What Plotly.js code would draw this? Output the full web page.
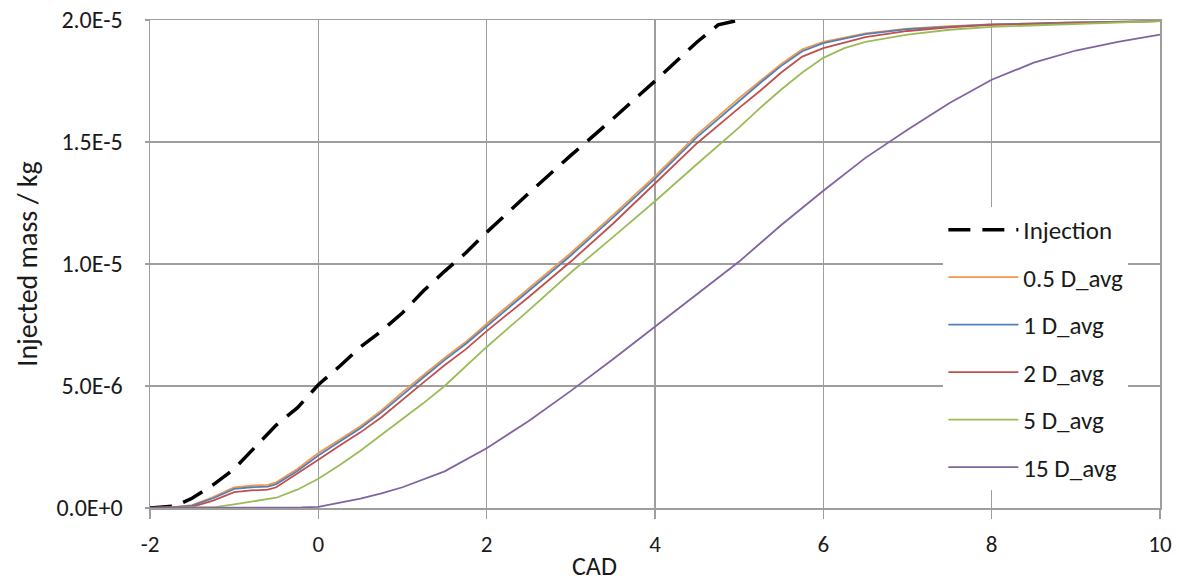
<!DOCTYPE html>
<html>
<head>
<meta charset="utf-8">
<script src="https://cdn.plot.ly/plotly-3.0.1.min.js"></script>
<style>html,body{margin:0;padding:0;background:#fff;}#chart{width:1179px;height:586px;}</style>
</head>
<body>
<div id="chart"></div>
<script>
// Values in units of 1e-6 kg
const injX = [-2, -1.8, -1.7, -1.5, -1.25, -1.0, -0.75, -0.5, -0.25, 0, 0.25, 0.5, 0.75, 1.0, 1.25, 1.5, 1.75, 2.0, 2.5, 3.0, 3.5, 4.0, 4.5, 4.75, 5.0];
const injY = [0, 0.03, 0.08, 0.4, 0.95, 1.6, 2.5, 3.4, 4.1, 5.05, 5.8, 6.6, 7.25, 8.0, 8.9, 9.7, 10.45, 11.3, 12.9, 14.45, 15.95, 17.5, 19.1, 19.8, 20.0];

const cX = [-2, -1.75, -1.5, -1.25, -1.0, -0.8, -0.6, -0.5, -0.25, 0, 0.25, 0.5, 0.75, 1.0, 1.25, 1.5, 1.75, 2.0, 2.5, 3.0, 3.5, 4.0, 4.5, 5.0, 5.25, 5.5, 5.75, 6.0, 6.5, 7.0, 7.5, 8.0, 9.0, 10.0];
const d05Y = [0, 0.02, 0.12, 0.45, 0.85, 0.92, 0.95, 1.05, 1.6, 2.25, 2.8, 3.35, 4.0, 4.75, 5.45, 6.15, 6.8, 7.55, 9.0, 10.45, 12.0, 13.6, 15.3, 16.8, 17.5, 18.2, 18.8, 19.1, 19.45, 19.65, 19.75, 19.82, 19.9, 19.95];
const d1Y  = [0, 0.02, 0.1, 0.4, 0.78, 0.85, 0.88, 0.98, 1.52, 2.15, 2.72, 3.27, 3.92, 4.66, 5.36, 6.06, 6.72, 7.45, 8.9, 10.35, 11.9, 13.5, 15.2, 16.7, 17.42, 18.12, 18.72, 19.05, 19.42, 19.63, 19.74, 19.82, 19.9, 19.95];
const d2Y  = [0, 0.01, 0.05, 0.3, 0.65, 0.72, 0.75, 0.85, 1.4, 1.98, 2.55, 3.1, 3.72, 4.45, 5.15, 5.85, 6.5, 7.25, 8.65, 10.1, 11.65, 13.3, 14.95, 16.4, 17.1, 17.85, 18.5, 18.85, 19.3, 19.55, 19.7, 19.8, 19.88, 19.95];

const g5X = [-2, -1.5, -1.25, -1.0, -0.75, -0.5, -0.25, 0, 0.25, 0.5, 0.75, 1.0, 1.25, 1.5, 1.75, 2.0, 2.5, 3.0, 3.5, 4.0, 4.5, 5.0, 5.25, 5.5, 5.75, 6.0, 6.25, 6.5, 7.0, 7.5, 8.0, 9.0, 10.0];
const d5Y = [0, 0, 0.03, 0.15, 0.3, 0.42, 0.75, 1.2, 1.75, 2.35, 3.0, 3.65, 4.3, 5.0, 5.8, 6.6, 8.1, 9.65, 11.1, 12.57, 14.1, 15.6, 16.4, 17.15, 17.85, 18.45, 18.85, 19.1, 19.4, 19.6, 19.72, 19.85, 19.95];

const p15X = [-2, -0.5, -0.2, 0, 0.25, 0.5, 0.75, 1.0, 1.5, 2.0, 2.5, 3.0, 3.5, 4.0, 4.5, 5.0, 5.5, 6.0, 6.5, 7.0, 7.5, 8.0, 8.5, 9.0, 9.5, 10.0];
const d15Y = [0, 0, 0.02, 0.05, 0.2, 0.38, 0.6, 0.85, 1.5, 2.45, 3.57, 4.8, 6.1, 7.43, 8.75, 10.1, 11.6, 13.0, 14.35, 15.5, 16.6, 17.55, 18.25, 18.75, 19.1, 19.4];

const yTickVals = [0, 5e-6, 1e-5, 1.5e-5, 2e-5];
const yTickText = ['0.0E+0', '5.0E-6', '1.0E-5', '1.5E-5', '2.0E-5'];
const xTickVals = [-2, 0, 2, 4, 6, 8, 10];
const xTitle = 'CAD';
const yTitle = 'Injected mass / kg';

const s = v => v.map(a => a * 1e-6);
const FONT = 'Carlito, Lato, "Liberation Sans", sans-serif';
const GRID = '#9e9e9e';

const traces = [
  {name: 'Injection', x: injX, y: s(injY), line: {color: '#000000', width: 3.5, dash: '22px,12px'}},
  {name: '0.5 D_avg', x: cX, y: s(d05Y), line: {color: '#F79646', width: 1.8}},
  {name: '1 D_avg', x: cX, y: s(d1Y), line: {color: '#4F81BD', width: 1.8}},
  {name: '2 D_avg', x: cX, y: s(d2Y), line: {color: '#C0504D', width: 1.8}},
  {name: '5 D_avg', x: g5X, y: s(d5Y), line: {color: '#9BBB59', width: 1.8}},
  {name: '15 D_avg', x: p15X, y: s(d15Y), line: {color: '#8064A2', width: 1.8}}
].map((t, i) => Object.assign({type: 'scatter', mode: 'lines', legendgroup: 'g' + i}, t));

const layout = {
  width: 1179, height: 586,
  margin: {l: 150, r: 19, t: 20, b: 78},
  paper_bgcolor: '#ffffff', plot_bgcolor: '#ffffff',
  font: {family: FONT, size: 23, color: '#1a1a1a'},
  showlegend: true,
  legend: {
    x: 0.7855, y: 0.617, xanchor: 'left', yanchor: 'top',
    bgcolor: '#ffffff', borderwidth: 0,
    font: {family: FONT, size: 25, color: '#1a1a1a'},
    tracegroupgap: 12, itemwidth: 70,
    traceorder: 'grouped'
  },
  xaxis: {
    range: [-2, 10], tickvals: xTickVals, ticktext: xTickVals.map(String),
    showgrid: true, gridcolor: GRID, gridwidth: 1.5,
    showline: true, linecolor: GRID, linewidth: 1.5, mirror: true,
    ticks: 'outside', ticklen: 9, tickcolor: GRID, tickwidth: 1.5,
    ticklabelstandoff: 6,
    zeroline: false, layer: 'below traces',
    tickfont: {family: FONT, size: 23, color: '#1a1a1a'}
  },
  yaxis: {
    range: [0, 2e-5], tickvals: yTickVals, ticktext: yTickText,
    showgrid: true, gridcolor: GRID, gridwidth: 1.5,
    showline: true, linecolor: GRID, linewidth: 1.5, mirror: true,
    ticks: 'outside', ticklen: 4, tickcolor: GRID, tickwidth: 1.5,
    ticklabelstandoff: 17,
    zeroline: false, layer: 'below traces',
    tickfont: {family: FONT, size: 24, color: '#1a1a1a'},
    title: {text: yTitle, font: {family: FONT, size: 28, color: '#1a1a1a'}, standoff: 10}
  },
  annotations: [{
    text: xTitle, xref: 'paper', yref: 'paper', x: 0.44, y: -0.119,
    xanchor: 'center', yanchor: 'middle', showarrow: false,
    font: {family: FONT, size: 26, color: '#1a1a1a'}
  }]
};

Plotly.newPlot('chart', traces, layout, {displayModeBar: false, staticPlot: true});
</script>
</body>
</html>
